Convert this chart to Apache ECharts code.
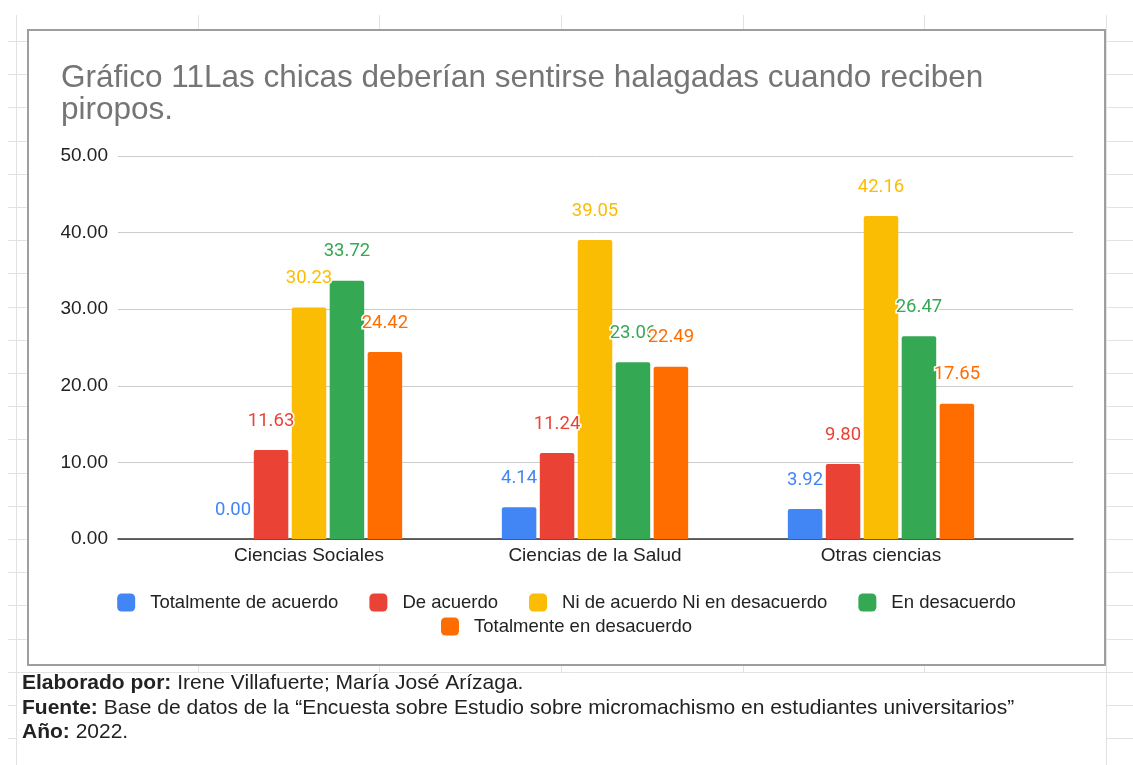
<!DOCTYPE html>
<html>
<head>
<meta charset="utf-8">
<script src="https://cdn.jsdelivr.net/npm/echarts@6/dist/echarts.min.js"></script>
<style>
  html, body { margin: 0; padding: 0; background: #fff; }
  #main { width: 1133px; height: 765px; }
</style>
</head>
<body>
<div id="main"></div>
<script>
// datos del gráfico
var categorias = ['Ciencias Sociales', 'Ciencias de la Salud', 'Otras ciencias'];
var nombresSeries = ['Totalmente de acuerdo', 'De acuerdo', 'Ni de acuerdo Ni en desacuerdo', 'En desacuerdo', 'Totalmente en desacuerdo'];
var totalmenteAcuerdo = [0.00, 4.14, 3.92];
var deAcuerdo = [11.63, 11.24, 9.80];
var niNi = [30.23, 39.05, 42.16];
var enDesacuerdo = [33.72, 23.06, 26.47];
var totalmenteDesacuerdo = [24.42, 22.49, 17.65];
var yMin = 0, yMax = 50, yIntervalo = 10;

var colores = ['#4285F4', '#EA4335', '#FBBC04', '#34A853', '#FF6D01'];
var valores = [totalmenteAcuerdo, deAcuerdo, niNi, enDesacuerdo, totalmenteDesacuerdo];

var fuente = 'Arial, "Liberation Sans", sans-serif';

// fondo de hoja de cálculo (decoración)
var graficos = [];
var colX = [16, 198, 379, 561, 743, 924, 1106];
colX.forEach(function (x) {
    graficos.push({ type: 'line', z: -100, shape: { x1: x + 0.5, y1: 15, x2: x + 0.5, y2: 765 }, style: { stroke: '#e2e2e2', lineWidth: 1 } });
});
for (var y = 41; y < 765; y += 33.2) {
    var yy = Math.round(y) + 0.5;
    graficos.push({ type: 'line', z: -100, shape: { x1: 8, y1: yy, x2: 1133, y2: yy }, style: { stroke: '#e2e2e2', lineWidth: 1 } });
}
// zona del pie de texto
graficos.push({ type: 'rect', z: -90, shape: { x: 17, y: 673, width: 1089, height: 92 }, style: { fill: '#fff' } });
// marco del gráfico
graficos.push({ type: 'rect', z: -80, shape: { x: 28, y: 30, width: 1077, height: 635 }, style: { fill: '#fff', stroke: '#9e9e9e', lineWidth: 2 } });

var pie = [
    ['{b|Elaborado por:} Irene Villafuerte; María José Arízaga.', 683],
    ['{b|Fuente:} Base de datos de la \u201cEncuesta sobre Estudio sobre micromachismo en estudiantes universitarios\u201d', 708],
    ['{b|Año:} 2022.', 732]
];
pie.forEach(function (p) {
    graficos.push({
        type: 'text', z: 10, x: 22, y: p[1],
        style: {
            text: p[0], fill: '#222', fontSize: 21, fontFamily: fuente,
            verticalAlign: 'middle', align: 'left',
            rich: { b: { fontWeight: 'bold', fontSize: 21, fontFamily: fuente, fill: '#222' } }
        }
    });
});

var series = nombresSeries.map(function (nombre, i) {
    return {
        name: nombre,
        type: 'bar',
        xAxisIndex: 1,
        yAxisIndex: 1,
        data: valores[i],
        barWidth: 34.5,
        barGap: '10%',
        itemStyle: { color: colores[i], borderRadius: [2, 2, 0, 0] },
        label: {
            show: true,
            position: 'top',
            distance: 19,
            color: colores[i],
            fontFamily: 'Roboto, Arial, sans-serif',
            fontWeight: 'normal',
            fontSize: 18.5,
            lineHeight: 20,
            textBorderColor: '#fff',
            textBorderWidth: 3,
            formatter: function (p) { return p.value.toFixed(2); }
        }
    };
});

var chart = echarts.init(document.getElementById('main'));
chart.setOption({
    backgroundColor: 'transparent',
    animation: false,
    title: {
        text: 'Gráfico 11Las chicas deberían sentirse halagadas cuando reciben\npiropos.',
        left: 61,
        top: 62,
        padding: 0,
        textStyle: { color: '#757575', fontSize: 31.5, lineHeight: 32, fontWeight: 'normal', fontFamily: fuente }
    },
    legend: [{
        data: nombresSeries.slice(0, 4),
        left: 'center',
        top: 588,
        itemWidth: 18,
        itemHeight: 18,
        itemGap: 31,
        icon: 'roundRect',
        textStyle: { color: '#222', fontSize: 18.5, fontFamily: fuente, padding: [0, 0, 0, 10] }
    }, {
        data: nombresSeries.slice(4),
        left: 'center',
        top: 612,
        itemWidth: 18,
        itemHeight: 18,
        icon: 'roundRect',
        textStyle: { color: '#222', fontSize: 18.5, fontFamily: fuente, padding: [0, 0, 0, 10] }
    }],
    graphic: graficos,
    grid: [
        { left: 118, right: 60, top: 156, bottom: 226 },
        { left: 166, right: 109, top: 156, bottom: 226 }
    ],
    xAxis: [{
        gridIndex: 0,
        type: 'value',
        min: 0, max: 1,
        axisLine: { show: true, lineStyle: { color: '#333', width: 1.5 } },
        axisTick: { show: false },
        axisLabel: { show: false },
        splitLine: { show: false }
    }, {
        gridIndex: 1,
        type: 'category',
        data: categorias,
        axisLine: { show: false },
        axisTick: { show: false },
        axisLabel: { color: '#222', fontSize: 19, fontFamily: fuente, margin: 7 }
    }],
    yAxis: [{
        gridIndex: 0,
        type: 'value',
        min: yMin, max: yMax, interval: yIntervalo,
        axisLine: { show: false },
        axisTick: { show: false },
        axisLabel: { color: '#222', fontSize: 19, fontFamily: fuente, margin: 10, formatter: function (v) { return v.toFixed(2); } },
        splitLine: { lineStyle: { color: '#cccccc', width: 1 } }
    }, {
        gridIndex: 1,
        type: 'value',
        min: yMin, max: yMax, interval: yIntervalo,
        show: false,
        splitLine: { show: false }
    }],
    series: series
});
</script>
</body>
</html>
